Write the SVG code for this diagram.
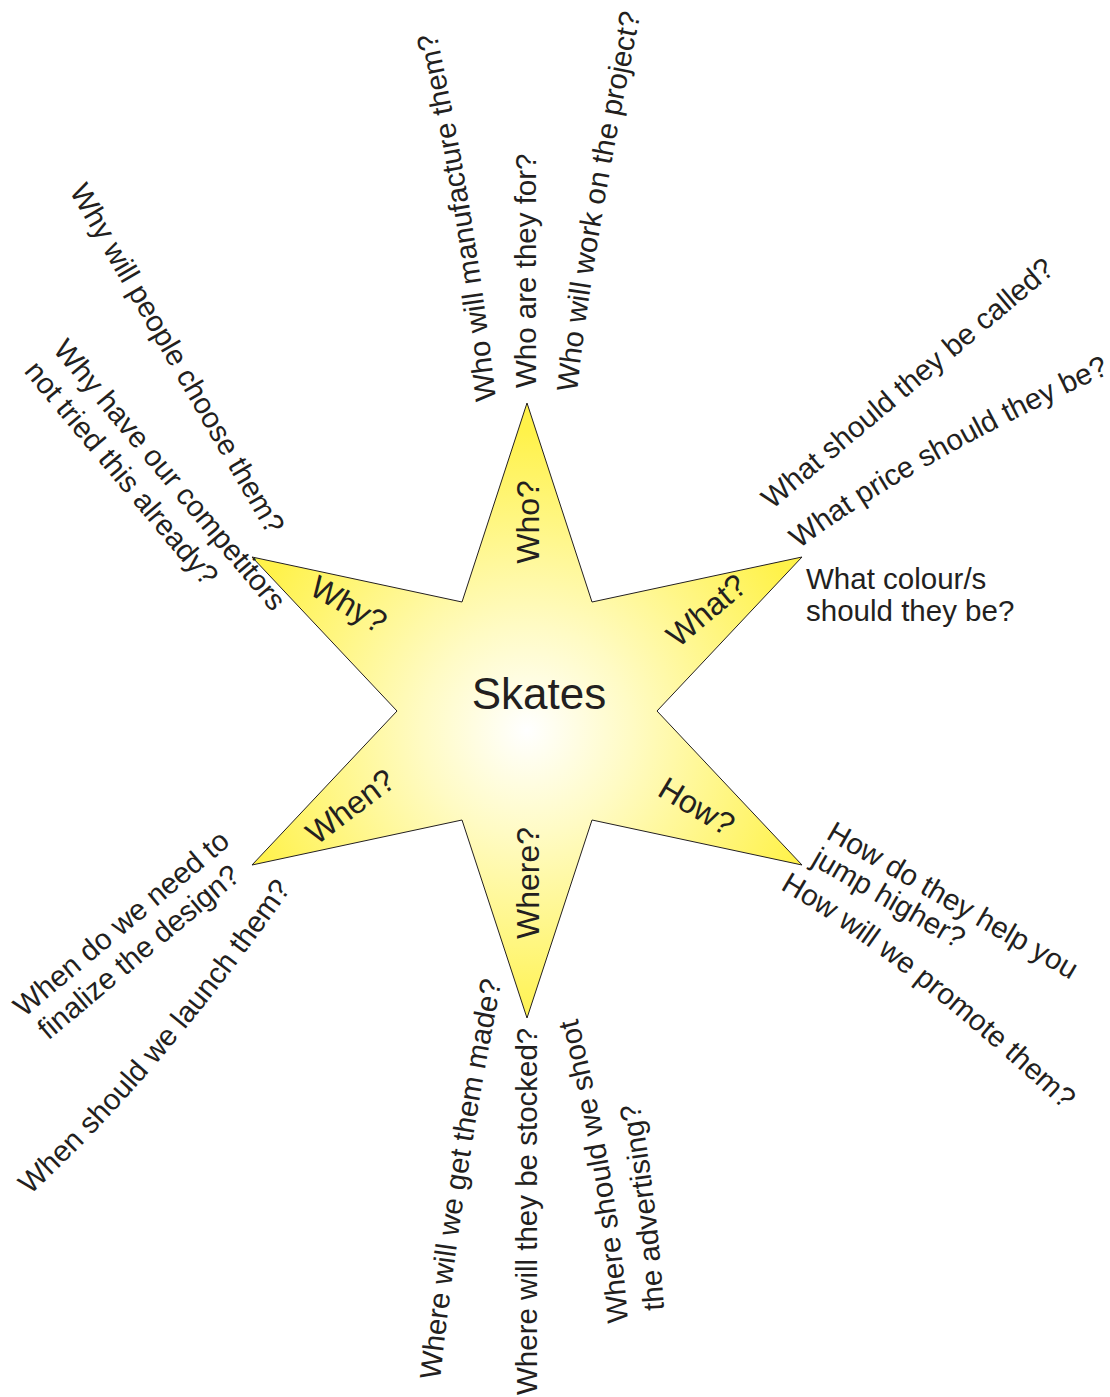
<svg xmlns="http://www.w3.org/2000/svg" width="1110" height="1397" viewBox="0 0 1110 1397">
  <style>
    text { font-family: "Liberation Sans", Arial, sans-serif; fill: #231f20; }
    .q { font-size: 29.5px; }
    .arm { font-size: 32px; text-anchor: middle; }
    .hub { font-size: 44px; text-anchor: middle; }
  </style>
  <defs>
    <radialGradient id="starFill" gradientUnits="userSpaceOnUse" cx="527" cy="730" r="300">
      <stop offset="0" stop-color="#ffffff"/>
      <stop offset="0.35" stop-color="#fffbc4"/>
      <stop offset="1" stop-color="#fff24a"/>
    </radialGradient>
    <path id="pWhoMan" d="M 496 400 Q 476 218 437 36"/>
    <path id="pWhoWork" d="M 577 392 Q 592 250 640 16"/>
    <path id="pWhatPrice" d="M 799 549 Q 906 468 1106 375"/>
    <path id="pHowPromote" d="M 780 889 Q 903 960 1066 1112"/>
    <path id="pWhenLaunch" d="M 30 1195 Q 162 1074 294 885"/>
    <path id="pWhereMade" d="M 440 1380 Q 462 1180 501 984"/>
    <path id="pWhereShoot" d="M 628 1322 Q 618 1180 576 1012"/>
    <path id="pWhereAdv" d="M 664 1310 Q 658 1210 640 1106"/>
  </defs>
  <rect width="1110" height="1397" fill="#ffffff"/>

  <g id="connectors"/>

  <g id="star">
    <polygon points="527,403 592,602 802,557 657,711 802,865 592,820 527,1018 462,820 252,865 397,711 252,557 462,602" fill="url(#starFill)" stroke="#231f20" stroke-width="1"/>
    <text class="hub" x="539" y="709">Skates</text>
    <text class="arm" transform="translate(527,522) rotate(-90)" y="11.5">Who?</text>
    <text class="arm" transform="translate(706,610) rotate(-40)" y="11.5">What?</text>
    <text class="arm" transform="translate(697,806) rotate(31)" y="11.5">How?</text>
    <text class="arm" transform="translate(527,883) rotate(-90)" y="11.5">Where?</text>
    <text class="arm" transform="translate(350,806) rotate(-37)" y="11.5">When?</text>
    <text class="arm" transform="translate(349,604) rotate(30)" y="11.5">Why?</text>
  </g>

  <g id="who-questions">
    <text class="q"><textPath href="#pWhoMan">Who will manufacture them?</textPath></text>
    <text class="q" transform="translate(536,388) rotate(-90)">Who are they for?</text>
    <text class="q"><textPath href="#pWhoWork">Who will work on the project?</textPath></text>
  </g>

  <g id="what-questions">
    <text class="q" transform="translate(772,510) rotate(-40)">What should they be called?</text>
    <text class="q"><textPath href="#pWhatPrice">What price should they be?</textPath></text>
    <text class="q" x="806" y="589">What colour/s</text>
    <text class="q" x="806" y="621">should they be?</text>
  </g>

  <g id="how-questions">
    <text class="q" transform="translate(825,838) rotate(30)">
      <tspan x="0" y="0">How do they help you</tspan>
      <tspan x="0" y="30">jump higher?</tspan>
    </text>
    <text class="q"><textPath href="#pHowPromote">How will we promote them?</textPath></text>
  </g>

  <g id="when-questions">
    <text class="q" transform="translate(24,1018) rotate(-40)">
      <tspan x="0" y="0">When do we need to</tspan>
      <tspan x="4" y="33">finalize the design?</tspan>
    </text>
    <text class="q"><textPath href="#pWhenLaunch">When should we launch them?</textPath></text>
  </g>

  <g id="where-questions">
    <text class="q"><textPath href="#pWhereMade">Where will we get them made?</textPath></text>
    <text class="q" transform="translate(537,1395) rotate(-90)">Where will they be stocked?</text>
    <text class="q"><textPath href="#pWhereShoot">Where should we shoot</textPath></text>
    <text class="q"><textPath href="#pWhereAdv">the advertising?</textPath></text>
  </g>

  <g id="why-questions">
    <text class="q" transform="translate(69,191) rotate(60)">Why will people choose them?</text>
    <text class="q" transform="translate(52,350) rotate(50)">
      <tspan x="0" y="0">Why have our competitors</tspan>
      <tspan x="-2" y="36">not tried this already?</tspan>
    </text>
  </g>
</svg>
